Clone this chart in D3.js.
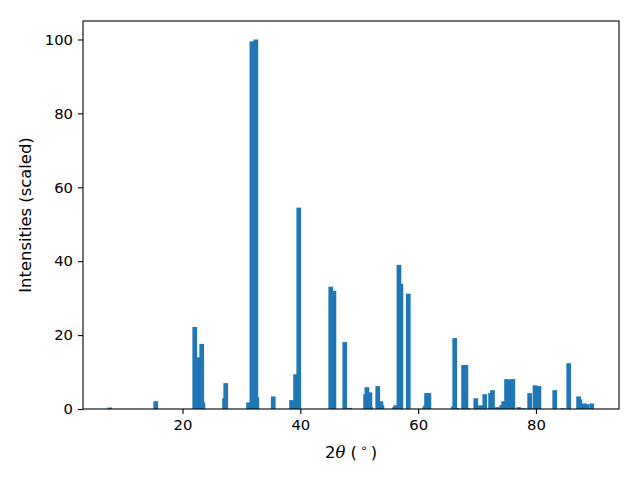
<!DOCTYPE html>
<html>
<head>
<meta charset="utf-8">
<script src="https://cdn.jsdelivr.net/npm/d3@7"></script>
<style>
  html, body { margin: 0; padding: 0; background: #fff; }
  svg { display: block; font-family: "DejaVu Sans", sans-serif; }
</style>
</head>
<body>
<svg id="chart" width="640" height="480"></svg>
<script>
// Peak positions (2θ, degrees) and scaled intensities
const twoTheta = [7.64, 15.45, 22.07, 22.67, 23.26, 23.45, 27.14, 27.33, 31.21, 31.77, 32.45, 32.62,
  35.40, 38.51, 39.19, 39.73, 45.16, 45.70, 47.54, 48.39, 51.08, 51.30, 51.81, 51.98, 53.14, 53.68,
  53.85, 56.00, 56.17, 56.74, 57.07, 58.32, 61.10, 61.27, 61.43, 61.82, 66.01, 66.21, 66.57, 67.72,
  68.11, 68.45, 69.78, 70.59, 71.31, 72.30, 72.62, 73.34, 74.17, 74.51, 75.01, 75.54, 76.08, 77.09,
  77.91, 78.93, 79.84, 80.50, 83.19, 84.55, 85.57, 87.24, 87.46, 88.20, 88.65, 89.47];
const intensity = [0.4, 2.1, 22.2, 14.0, 17.6, 1.8, 2.9, 7.0, 1.8, 99.5, 100.0, 3.2,
  3.4, 2.4, 9.4, 54.5, 33.1, 32.0, 18.1, 0.3, 4.0, 5.9, 4.5, 0.5, 6.2, 2.1,
  1.0, 0.5, 1.0, 39.0, 33.9, 31.2, 0.5, 1.0, 4.3, 4.3, 0.7, 19.2, 0.3, 11.9,
  11.9, 0.3, 2.9, 1.0, 4.0, 4.3, 5.1, 0.5, 1.0, 2.1, 8.1, 8.0, 8.1, 0.5,
  0.2, 4.3, 6.4, 6.2, 5.1, 0.2, 12.4, 3.4, 2.6, 1.5, 1.3, 1.5];
const xTicks = [20, 40, 60, 80];
const yTicks = [0, 20, 40, 60, 80, 100];
const barWidth = 0.8;

const svg = d3.select("#chart");
const margin = {left: 83, right: 21, top: 21, bottom: 71};
const W = 640, H = 480;
const iw = W - margin.left - margin.right;
const ih = H - margin.top - margin.bottom;

const x = d3.scaleLinear().domain([3.1, 94.1]).range([margin.left, margin.left + iw]);
const y = d3.scaleLinear().domain([0, 105]).range([margin.top + ih, margin.top]);

const data = twoTheta.map((t, i) => ({t, v: intensity[i]}))
  .sort((a, b) => a.v - b.v);

const g = svg.append("g");
g.selectAll("rect.bar").data(data).enter().append("rect")
  .attr("class", "bar")
  .attr("x", d => x(d.t - barWidth / 2))
  .attr("width", d => x(d.t + barWidth / 2) - x(d.t - barWidth / 2))
  .attr("y", d => y(d.v))
  .attr("height", d => y(0) - y(d.v))
  .attr("fill", "#1f77b4");

// Axes
const xAxis = d3.axisBottom(x).tickValues(xTicks).tickSize(5).tickPadding(5).tickFormat(d3.format("d"));
const yAxis = d3.axisLeft(y).tickValues(yTicks).tickSize(5).tickPadding(5).tickFormat(d3.format("d"));

const gx = svg.append("g").attr("transform", `translate(0,${margin.top + ih})`).call(xAxis);
const gy = svg.append("g").attr("transform", `translate(${margin.left},0)`).call(yAxis);
[gx, gy].forEach(a => {
  a.select(".domain").remove();
  a.selectAll("text").attr("font-family", "DejaVu Sans, sans-serif").attr("font-size", 14.8).attr("fill", "#000");
  a.selectAll("line").attr("stroke", "#000").attr("stroke-width", 1.1);
});

// Frame
svg.append("rect")
  .attr("x", margin.left).attr("y", margin.top)
  .attr("width", iw).attr("height", ih)
  .attr("fill", "none").attr("stroke", "#000").attr("stroke-width", 1.1);

// X label: 2θ (°)
const xl = svg.append("text")
  .attr("x", margin.left + iw / 2).attr("y", 458)
  .attr("text-anchor", "middle")
  .attr("font-size", 16.4).attr("fill", "#000");
xl.append("tspan").text("2");
xl.append("tspan").attr("font-style", "italic").attr("font-family", "DejaVu Serif, serif").text("θ");
xl.append("tspan").text(" (\u2009");
xl.append("tspan").attr("font-size", 11.5).attr("dy", -6).text("∘");
xl.append("tspan").attr("dy", 6).text("\u2009)");

// Y label
svg.append("text")
  .attr("transform", `translate(31,${margin.top + ih / 2}) rotate(-90)`)
  .attr("text-anchor", "middle")
  .attr("font-size", 16.4).attr("fill", "#000")
  .text("Intensities (scaled)");
</script>
</body>
</html>
